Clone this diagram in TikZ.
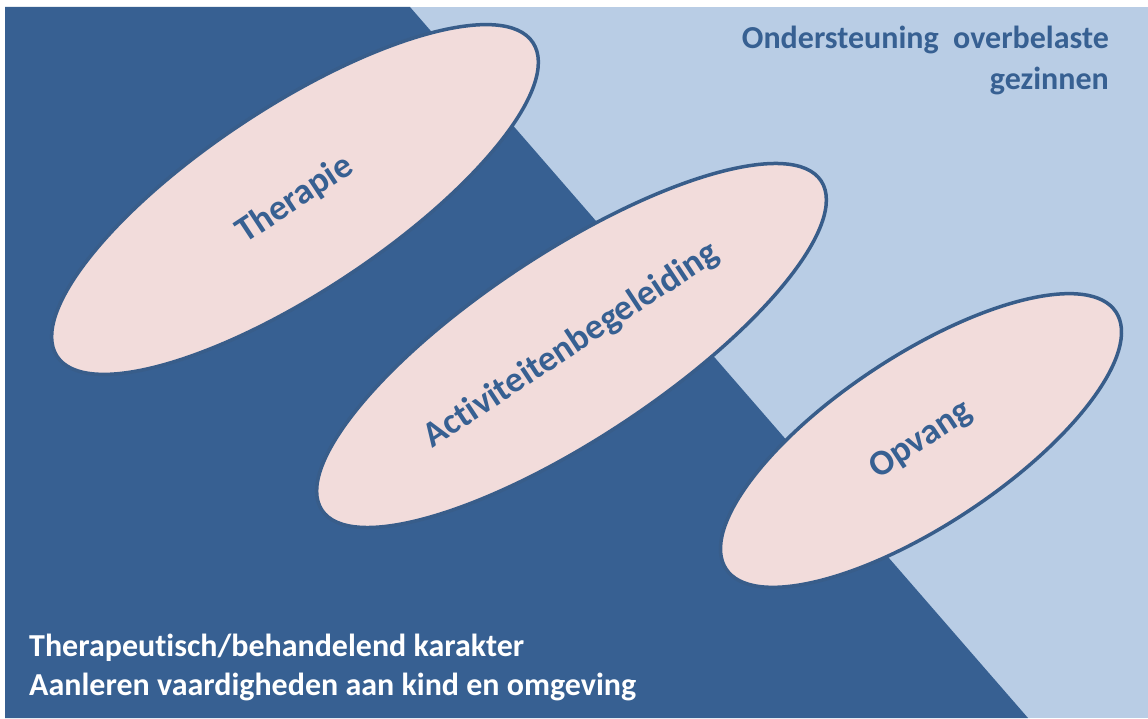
\documentclass[tikz,border=0pt]{standalone}
\usepackage{fontspec}
\setmainfont{Carlito}[Ligatures=NoCommon]
\usetikzlibrary{shapes.geometric}
\definecolor{darkblue}{HTML}{376092}
\definecolor{lightblue}{HTML}{B9CDE5}
\definecolor{pinkfill}{HTML}{F2DCDB}
\definecolor{outline}{HTML}{385D8A}
\definecolor{textblue}{HTML}{376092}
\tikzset{
  oval/.style={ellipse, draw=outline, line width=3.5pt, fill=pinkfill, inner sep=0pt,
    text=textblue, font=\fontsize{36}{40}\selectfont\bfseries, rotate=33.4},
  toptext/.style={text=textblue, font=\fontsize{32}{38}\selectfont\bfseries, inner sep=0pt},
  bottext/.style={text=white, font=\fontsize{32}{38}\selectfont\bfseries, inner sep=0pt}
}
\begin{document}
\begin{tikzpicture}[x=1pt,y=1pt]
\useasboundingbox (0,0) rectangle (1148,718);
\fill[white] (0,0) rectangle (1148,718);
\fill[lightblue] (5,0) rectangle (1148,711);
\fill[darkblue] (5,0) -- (5,711) -- (410,711) -- (1028,0) -- cycle;
\node[oval, minimum width=570pt, minimum height=185pt] (therapie) at (295,518.5) {Therapie};
\node[oval, minimum width=598pt, minimum height=186pt] (activ) at (571.5,372.5) {Activiteitenbegeleiding};
\node[oval, minimum width=467pt, minimum height=170pt] (opvang) at (921,277.5) {Opvang};
\node[toptext, anchor=base east] (ond1) at (1109,669) {Ondersteuning\ \ overbelaste};
\node[toptext, anchor=base east] (ond2) at (1109,628) {gezinnen};
\node[bottext, anchor=base west] (bot1) at (29,62) {Therapeutisch/behandelend karakter};
\node[bottext, anchor=base west] (bot2) at (29,23) {Aanleren vaardigheden aan kind en omgeving};
\end{tikzpicture}
\end{document}
